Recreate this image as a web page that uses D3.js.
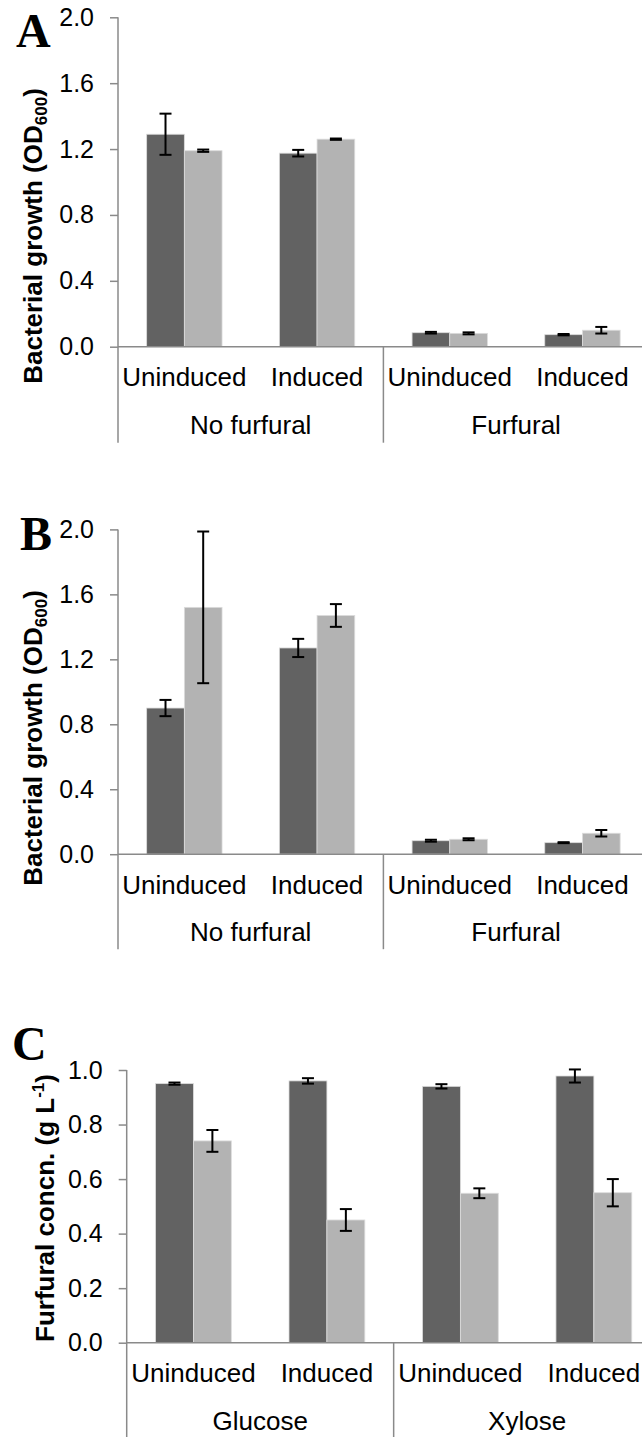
<!DOCTYPE html>
<html>
<head>
<meta charset="utf-8">
<script src="https://cdn.jsdelivr.net/npm/d3@7"></script>
<style>
  html, body { margin: 0; padding: 0; background: #fff; }
  svg { display: block; }
</style>
</head>
<body>
<svg id="chart" width="642" height="1437"></svg>
<script>
// Category labels along the x axis and their grouping
const categories = ["Uninduced", "Induced", "Uninduced", "Induced"];
const groupsAB = ["No furfural", "Furfural"];
const groupsC = ["Glucose", "Xylose"];
const series = ["dark", "light"];

// Tick values
const ticksAB = [0, 0.4, 0.8, 1.2, 1.6, 2.0];
const ticksC = [0, 0.2, 0.4, 0.6, 0.8, 1.0];

// Panel A: bacterial growth (OD600)
const aDark = [1.29, 1.175, 0.085, 0.073];
const aDarkErr = [0.125, 0.02, 0.005, 0.004];
const aLight = [1.19, 1.26, 0.081, 0.10];
const aLightErr = [0.007, 0.004, 0.006, 0.02];

// Panel B: bacterial growth (OD600)
const bDark = [0.90, 1.27, 0.083, 0.071];
const bDarkErr = [0.05, 0.056, 0.006, 0.003];
const bLight = [1.52, 1.47, 0.092, 0.129];
const bLightErr = [0.467, 0.07, 0.006, 0.02];

// Panel C: furfural concentration (g/L)
const cDark = [0.95, 0.96, 0.94, 0.978];
const cDarkErr = [0.004, 0.01, 0.008, 0.024];
const cLight = [0.74, 0.45, 0.548, 0.55];
const cLightErr = [0.04, 0.04, 0.018, 0.05];

const colors = { dark: "#626262", light: "#b3b3b3" };
const axisColor = "#8a8a8a";
const sans = "'Liberation Sans', Arial, sans-serif";
const serif = "'Liberation Serif', 'Times New Roman', serif";

const svg = d3.select("#chart");

const panels = [
  {
    letter: "A", letterX: 16, letterY: 47,
    dark: aDark, darkErr: aDarkErr, light: aLight, lightErr: aLightErr,
    groups: groupsAB, ticks: ticksAB, domain: [0, 2.0],
    yTop: 17.3, yBottom: 346.7, xLeft: 118, xRight: 648.8,
    lineEnd: 96,
    title: ["Bacterial growth (OD", "600", ")"], titleMode: "sub",
    titleX: 42, titleY: 236
  },
  {
    letter: "B", letterX: 20, letterY: 550,
    dark: bDark, darkErr: bDarkErr, light: bLight, lightErr: bLightErr,
    groups: groupsAB, ticks: ticksAB, domain: [0, 2.0],
    yTop: 529.4, yBottom: 854.2, xLeft: 118, xRight: 648.8,
    lineEnd: 95,
    title: ["Bacterial growth (OD", "600", ")"], titleMode: "sub",
    titleX: 42, titleY: 738
  },
  {
    letter: "C", letterX: 12, letterY: 1060,
    dark: cDark, darkErr: cDarkErr, light: cLight, lightErr: cLightErr,
    groups: groupsC, ticks: ticksC, domain: [0, 1.0],
    yTop: 1070, yBottom: 1342.7, xLeft: 126.7, xRight: 660.6,
    lineEnd: 100,
    title: ["Furfural concn. (g L", "-1", ")"], titleMode: "sup",
    titleX: 54, titleY: 1208
  }
];

panels.forEach(p => {
  const g = svg.append("g");

  const y = d3.scaleLinear().domain(p.domain).range([p.yBottom, p.yTop]);
  const x = d3.scaleBand()
    .domain(d3.range(categories.length))
    .range([p.xLeft, p.xRight])
    .paddingInner(0.432)
    .paddingOuter(0.216);
  const xs = d3.scaleBand().domain(series).range([0, x.bandwidth()]);

  const rows = categories.map((c, i) => ({
    i,
    vals: [
      { s: "dark", v: p.dark[i], e: p.darkErr[i] },
      { s: "light", v: p.light[i], e: p.lightErr[i] }
    ]
  }));

  // Bars
  const grp = g.selectAll("g.cat").data(rows).join("g")
    .attr("transform", d => `translate(${x(d.i)},0)`);

  grp.selectAll("rect").data(d => d.vals).join("rect")
    .attr("x", d => xs(d.s))
    .attr("y", d => y(d.v))
    .attr("width", xs.bandwidth())
    .attr("height", d => y(0) - y(d.v))
    .attr("fill", d => colors[d.s])
    .attr("stroke", "#dcdcdc")
    .attr("stroke-width", 0.8);

  // Error bars
  const cap = 6;
  const eb = grp.selectAll("g.err").data(d => d.vals).join("g")
    .attr("stroke", "#000").attr("stroke-width", 2);
  eb.append("line")
    .attr("x1", d => xs(d.s) + xs.bandwidth() / 2)
    .attr("x2", d => xs(d.s) + xs.bandwidth() / 2)
    .attr("y1", d => y(d.v + d.e))
    .attr("y2", d => y(d.v - d.e));
  eb.append("line")
    .attr("x1", d => xs(d.s) + xs.bandwidth() / 2 - cap)
    .attr("x2", d => xs(d.s) + xs.bandwidth() / 2 + cap)
    .attr("y1", d => y(d.v + d.e))
    .attr("y2", d => y(d.v + d.e));
  eb.append("line")
    .attr("x1", d => xs(d.s) + xs.bandwidth() / 2 - cap)
    .attr("x2", d => xs(d.s) + xs.bandwidth() / 2 + cap)
    .attr("y1", d => y(d.v - d.e))
    .attr("y2", d => y(d.v - d.e));

  // Y axis
  const yAxis = d3.axisLeft(y)
    .tickValues(p.ticks)
    .tickFormat(d3.format(".1f"))
    .tickSize(8)
    .tickPadding(16)
    .tickSizeOuter(0);
  const ya = g.append("g")
    .attr("transform", `translate(${p.xLeft},0)`)
    .call(yAxis);
  ya.select(".domain").remove();
  ya.selectAll(".tick line").attr("stroke", axisColor).attr("stroke-width", 1.5);
  ya.selectAll(".tick text")
    .attr("fill", "#000")
    .attr("font-family", sans)
    .attr("font-size", 25);

  // Axis lines and category dividers
  const axisY = y(0);
  g.append("line")
    .attr("x1", p.xLeft).attr("x2", p.xLeft)
    .attr("y1", y(p.domain[1])).attr("y2", axisY + p.lineEnd)
    .attr("stroke", axisColor).attr("stroke-width", 1.5);
  g.append("line")
    .attr("x1", p.xLeft).attr("x2", p.xRight)
    .attr("y1", axisY).attr("y2", axisY)
    .attr("stroke", axisColor).attr("stroke-width", 1.5);
  const mid = p.xLeft + x.step() * 2;
  [mid, p.xRight].forEach(xx => {
    g.append("line")
      .attr("x1", xx).attr("x2", xx)
      .attr("y1", axisY).attr("y2", axisY + p.lineEnd)
      .attr("stroke", axisColor).attr("stroke-width", 1.5);
  });

  // Category labels
  g.selectAll("text.cat").data(categories).join("text")
    .attr("class", "cat")
    .attr("x", (d, i) => x(i) + x.bandwidth() / 2)
    .attr("y", axisY + 39.5)
    .attr("text-anchor", "middle")
    .attr("font-family", sans)
    .attr("font-size", 26)
    .attr("fill", "#000")
    .text(d => d);

  // Group labels
  g.selectAll("text.grp").data(p.groups).join("text")
    .attr("class", "grp")
    .attr("x", (d, i) => p.xLeft + x.step() * (2 * i + 1))
    .attr("y", axisY + 87)
    .attr("text-anchor", "middle")
    .attr("font-family", sans)
    .attr("font-size", 26)
    .attr("fill", "#000")
    .text(d => d);

  // Y title
  const t = g.append("text")
    .attr("transform", `translate(${p.titleX},${p.titleY}) rotate(-90)`)
    .attr("text-anchor", "middle")
    .attr("font-family", sans)
    .attr("font-weight", "bold")
    .attr("font-size", 26)
    .attr("fill", "#000");
  const shift = p.titleMode === "sub" ? 5 : -10;
  t.append("tspan").text(p.title[0]);
  t.append("tspan").attr("dy", shift).attr("font-size", 17).text(p.title[1]);
  t.append("tspan").attr("dy", -shift).text(p.title[2]);

  // Panel letter
  g.append("text")
    .attr("x", p.letterX).attr("y", p.letterY)
    .attr("font-family", serif)
    .attr("font-weight", "bold")
    .attr("font-size", 48)
    .attr("fill", "#000")
    .text(p.letter);
});
</script>
</body>
</html>
